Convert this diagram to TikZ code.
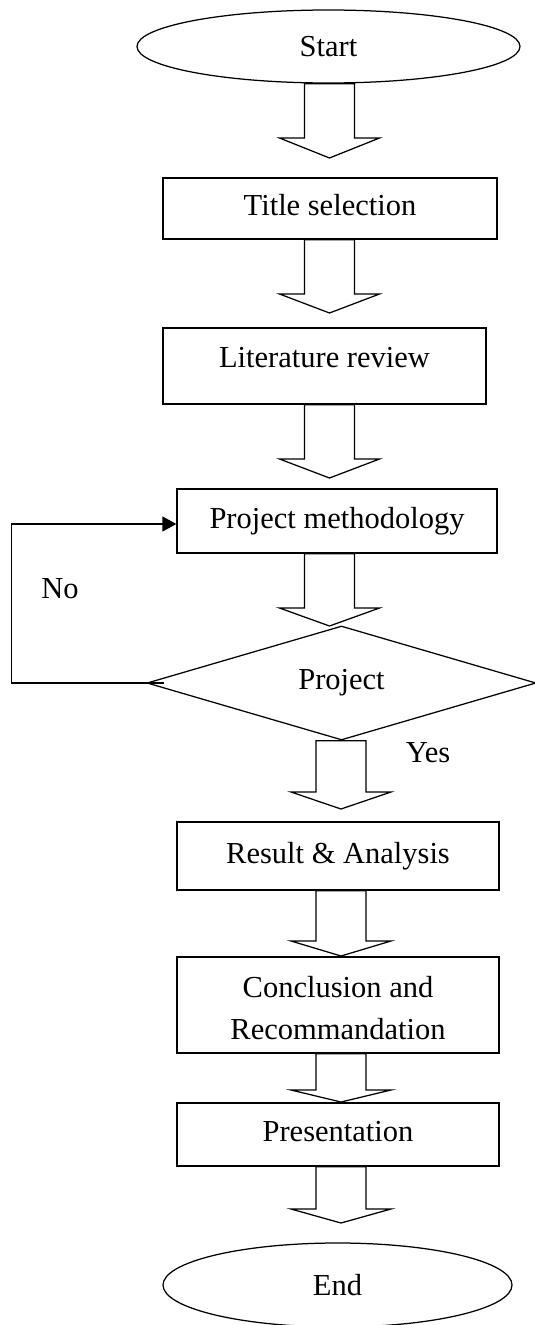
\documentclass[tikz,border=0pt]{standalone}
\usepackage{fontspec}
\setmainfont{Liberation Serif}
\usetikzlibrary{shapes.geometric,arrows.meta,calc}

\tikzset{
  every node/.style={font=\fontsize{30.5}{42}\selectfont},
  outline/.style={draw=black,line width=1.25pt,fill=white},
  terminal/.style={outline,ellipse,inner sep=0pt},
  stepbox/.style={outline,rectangle,inner sep=0pt,text height=21pt,text depth=7pt},
  decision/.style={outline,diamond,aspect=3.4,inner sep=0pt},
  blockarrow/.style={draw=black,line width=1.25pt,fill=white,line join=miter},
  feedback/.style={draw=black,line width=1.5pt,-{Triangle[length=14pt,width=15pt]}},
  tag/.style={inner sep=0pt}
}

% hollow block arrow hanging below a node:
% #1 centre x, #2 source node, #3 y of the head base, #4 y of the tip
\newcommand\hollowarrow[4]{%
  \draw[blockarrow] let \p1=(#2.south) in
    (#1-25,\y1) -- (#1-25,#3) -- (#1-50,#3) -- (#1,#4) --
    (#1+50,#3) -- (#1+25,#3) -- (#1+25,\y1) -- cycle;}

\begin{document}
\begin{tikzpicture}[x=1pt,y=1pt]
\useasboundingbox (0,0) rectangle (535,-1325);

% terminals, process steps and the decision
\node[terminal,minimum width=383,minimum height=73] (start) at (328.5,-46.5) {Start};
\node[stepbox,minimum width=334,minimum height=61] (title) at (330,-208.5) {Title selection};
\node[stepbox,minimum width=323,minimum height=76,text depth=18pt] (lit) at (324.5,-366) {Literature review};
\node[stepbox,minimum width=320,minimum height=64] (meth) at (337,-521) {Project methodology};
\node[decision,minimum width=389,minimum height=114] (proj) at (341.5,-683) {Project};
\node[stepbox,minimum width=322,minimum height=68] (res) at (338,-856) {Result \& Analysis};
\node[outline,rectangle,inner sep=0pt,align=center,minimum width=322,minimum height=96] (conc) at (338,-1005)
  {\rule{0pt}{27pt}Conclusion and\\Recommandation};
\node[stepbox,minimum width=322,minimum height=63] (pres) at (338,-1134.5) {Presentation};
\node[terminal,minimum width=349,minimum height=84] (end) at (337.5,-1285) {End};

% block arrows between the steps
\hollowarrow{329.5}{start}{-138}{-158}
\hollowarrow{329.5}{title}{-294}{-313}
\hollowarrow{329.5}{lit}{-459}{-478}
\hollowarrow{329.5}{meth}{-608}{-626}
\hollowarrow{341}{proj}{-792}{-809}
\hollowarrow{341}{res}{-941}{-956}
\hollowarrow{341}{conc}{-1090}{-1102}
\hollowarrow{341}{pres}{-1209}{-1223}

% loop back when the project check fails
\draw[feedback] ([xshift=18pt]proj.west) -- ++(-153,0) |- ([yshift=-3pt]meth.west);

% branch labels
\node[tag] (no) at (60,-589) {No};
\node[tag] (yes) at (428,-753) {Yes};
\end{tikzpicture}
\end{document}
